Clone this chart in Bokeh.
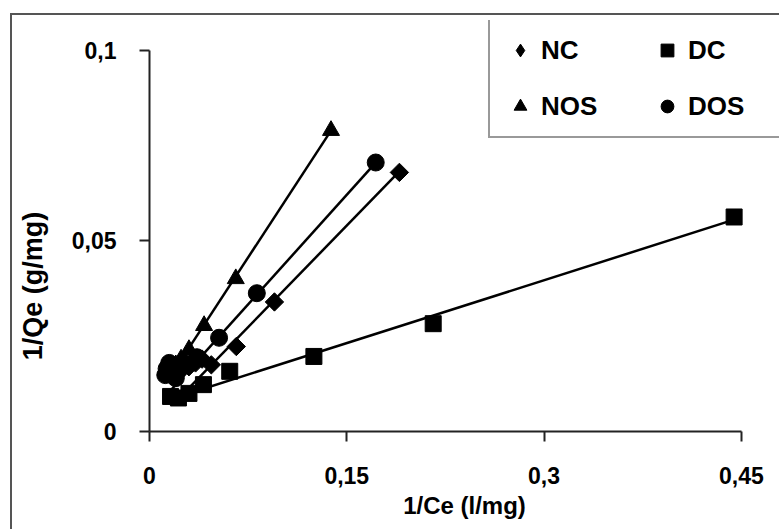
import math
from bokeh.plotting import figure
from bokeh.models import Range1d, FixedTicker, Legend, LegendItem
from bokeh.embed import file_html
from bokeh.resources import INLINE

# ---- data ----
nc_x = [0.190, 0.095, 0.066, 0.047, 0.040, 0.035, 0.030, 0.026]
nc_y = [0.0680, 0.0340, 0.0223, 0.0175, 0.0190, 0.0180, 0.0170, 0.0185]

dc_x = [0.4445, 0.2157, 0.125, 0.061, 0.041, 0.030, 0.022, 0.016]
dc_y = [0.0563, 0.0283, 0.0197, 0.0158, 0.0123, 0.0100, 0.0088, 0.0092]

nos_x = [0.138, 0.0656, 0.0415, 0.030, 0.024, 0.020, 0.016]
nos_y = [0.0790, 0.0401, 0.0278, 0.0215, 0.0190, 0.0175, 0.0160]

dos_x = [0.172, 0.0816, 0.0529, 0.036, 0.027, 0.022, 0.018, 0.015, 0.013, 0.012, 0.020]
dos_y = [0.0706, 0.0363, 0.0246, 0.0195, 0.0175, 0.0165, 0.0160, 0.0180, 0.0165, 0.0148, 0.0140]

# linear trend lines (slope, intercept)
nc_fit = (0.355, 0.0008)
dc_fit = (0.110, 0.0067)
nos_fit = (0.528, 0.0061)
dos_fit = (0.3835, 0.0046)

x_ticks = [0, 0.15, 0.3, 0.45]
x_tick_labels = ["0", "0,15", "0,3", "0,45"]
y_ticks = [0, 0.05, 0.1]
y_tick_labels = ["0", "0,05", "0,1"]

FONT = "Liberation Sans"

# the frame reaches a little past 0.45 / 0.1 so the legend box can sit there;
# the axes themselves are bounded to the data extents
p = figure(width=769, height=516, output_backend="svg", toolbar_location=None,
           x_range=Range1d(0, 0.479), y_range=Range1d(0, 0.10787))
p.margin = (13, 0, 0, 10)
p.styles = {"border-top": "2px solid #555555", "border-left": "2px solid #555555"}
p.min_border_left = 137
p.min_border_right = 2
p.min_border_top = 5
p.min_border_bottom = 100
p.outline_line_color = None
p.background_fill_color = "white"
p.border_fill_color = "white"
p.grid.visible = False

for ax in (p.xaxis[0], p.yaxis[0]):
    ax.axis_line_color = "#222222"
    ax.axis_line_width = 2
    ax.major_tick_line_color = "#222222"
    ax.major_tick_line_width = 2
    ax.major_tick_in = 0
    ax.major_tick_out = 10
    ax.minor_tick_line_color = None
    ax.major_label_text_font = FONT
    ax.major_label_text_font_style = "bold"
    ax.major_label_text_font_size = "23px"
    ax.major_label_text_color = "black"
    ax.axis_label_text_font = FONT
    ax.axis_label_text_font_style = "bold"
    ax.axis_label_text_color = "black"

p.xaxis.bounds = (0, 0.45)
p.yaxis.bounds = (0, 0.1)
p.xaxis.ticker = FixedTicker(ticks=x_ticks)
p.xaxis.major_label_overrides = {t: s for t, s in zip(x_ticks, x_tick_labels)}
p.yaxis.ticker = FixedTicker(ticks=y_ticks)
p.yaxis.major_label_overrides = {t: s for t, s in zip(y_ticks, y_tick_labels)}
p.xaxis.major_label_standoff = 25
p.yaxis.major_label_standoff = 23

p.xaxis.axis_label = "1/Ce (l/mg)"
p.xaxis.axis_label_text_font_size = "24px"
p.xaxis.axis_label_standoff = 5

# trailing no-break spaces push the visible label down along the axis, as in the reference
p.yaxis.axis_label = "1/Qe (g/mg)" + "\u00a0" * 16
p.yaxis.axis_label_text_font_size = "27px"
p.yaxis.axis_label_standoff = 21

series = [
    ("NC", nc_x, nc_y, nc_fit, "square", 13, math.pi / 4),
    ("DC", dc_x, dc_y, dc_fit, "square", 16, 0),
    ("NOS", nos_x, nos_y, nos_fit, "triangle", 17, 0),
    ("DOS", dos_x, dos_y, dos_fit, "circle", 17, 0),
]

items = {}
for name, xs, ys, fit, marker, size, ang in series:
    x0, x1 = min(xs), max(xs)
    p.line([x0, x1], [fit[0] * x0 + fit[1], fit[0] * x1 + fit[1]],
           line_color="black", line_width=2.5)

# NC legend swatch: plain diamonds on the NC points, fully covered by the
# rotated squares drawn on top (the legend ignores marker rotation)
nc_legend_r = p.scatter(nc_x, nc_y, marker="diamond", size=13, fill_color="black",
                        line_color="black")

for name, xs, ys, fit, marker, size, ang in series:
    r = p.scatter(xs, ys, marker=marker, size=size, angle=ang, fill_color="black",
                  line_color="black")
    items[name] = r
items["NC"] = nc_legend_r

legend = Legend(items=[LegendItem(label=n, renderers=[items[n]]) for n in ["NC", "NOS", "DC", "DOS"]],
                ncols=2, location=(339, 293))
legend.label_text_font = FONT
legend.label_text_font_style = "bold"
legend.label_text_font_size = "26px"
legend.label_text_color = "black"
legend.glyph_width = 32
legend.glyph_height = 32
legend.label_standoff = 5
legend.label_width = 86
legend.spacing = 24
legend.padding = 14
legend.margin = 0
legend.border_line_color = "#333333"
legend.border_line_width = 2
legend.background_fill_color = "white"
legend.background_fill_alpha = 1
p.add_layout(legend, "center")

open("out.html", "w").write(file_html(p, INLINE))
